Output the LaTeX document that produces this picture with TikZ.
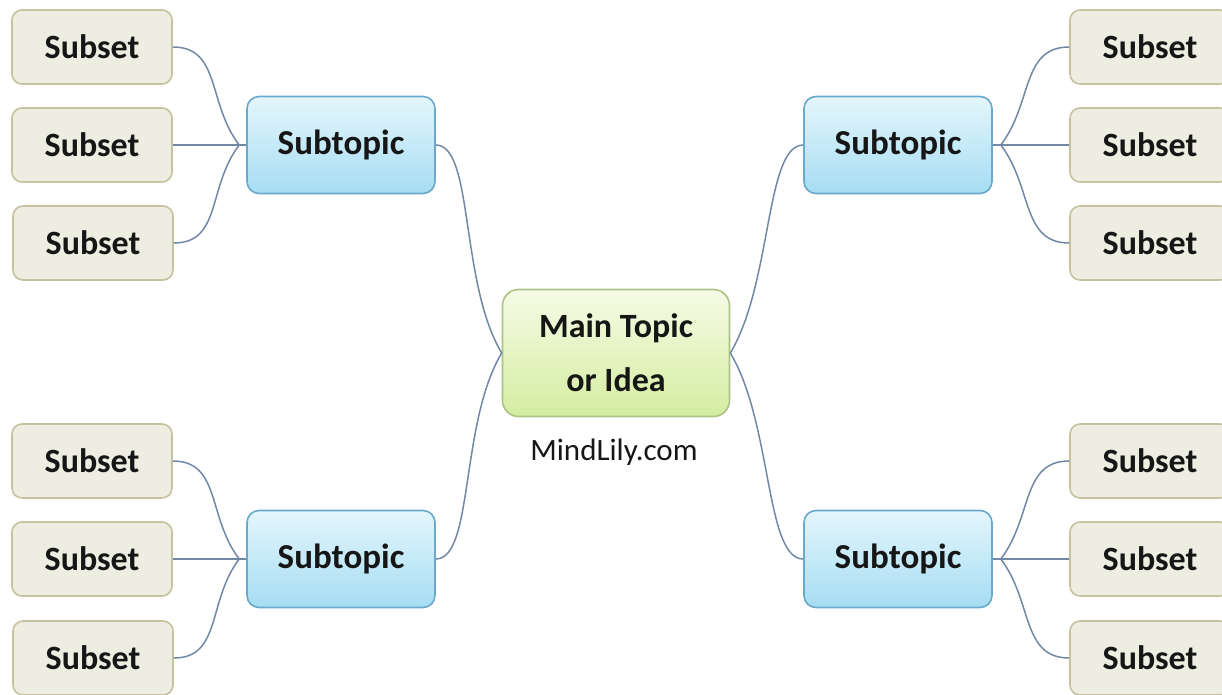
\documentclass[tikz,border=0pt]{standalone}
\usepackage{fontspec}
\setmainfont{Carlito}
\definecolor{linkcol}{HTML}{7388A6}
\definecolor{subsetfill}{HTML}{EEEDE2}
\definecolor{subsetdraw}{HTML}{C5C29F}
\definecolor{subtopictop}{HTML}{E4F6FC}
\definecolor{subtopicbot}{HTML}{A6DDF3}
\definecolor{subtopicdraw}{HTML}{6AA9CB}
\definecolor{maintop}{HTML}{F7FBE6}
\definecolor{mainbot}{HTML}{D3EDA0}
\definecolor{maindraw}{HTML}{ADC286}
\definecolor{inkcol}{HTML}{161616}
\begin{document}
\begin{tikzpicture}[x=1pt,y=-1pt,
  subsetbox/.style={draw=subsetdraw,line width=1.6pt,fill=subsetfill,rounded corners=10pt,
    minimum width=160pt,minimum height=74pt,inner sep=0pt,
    font=\fontsize{34}{40}\selectfont\bfseries,text=inkcol},
  topicbox/.style={draw=subtopicdraw,line width=1.6pt,top color=subtopictop,bottom color=subtopicbot,
    rounded corners=12pt,minimum width=188pt,minimum height=97pt,inner sep=0pt,
    font=\fontsize{35}{40}\selectfont\bfseries,text=inkcol},
  mainbox/.style={draw=maindraw,line width=1.6pt,top color=maintop,bottom color=mainbot,
    rounded corners=16pt,minimum width=227pt,minimum height=127pt,inner sep=0pt,align=center,
    font=\fontsize{34}{54}\selectfont\bfseries,text=inkcol},
  link/.style={draw=linkcol,line width=1.5pt}]
\useasboundingbox (0,0) rectangle (1222,694);
\fill[white] (0,0) rectangle (1222,694);
\clip (0,0) rectangle (1222,694);

% central idea
\node[mainbox] (main) at (616,353) {Main Topic\\or Idea};
\node[font=\fontsize{31}{36}\selectfont,text=inkcol] (site) at (614,452) {MindLily.com};

% subtopics
\node[topicbox] (tl) at (341,145) {Subtopic};
\node[topicbox] (bl) at (341,559) {Subtopic};
\node[topicbox] (tr) at (898,145) {Subtopic};
\node[topicbox] (br) at (898,559) {Subtopic};

% subsets, left column
\node[subsetbox] (tl1) at (92,47) {Subset};
\node[subsetbox] (tl2) at (92,145) {Subset};
\node[subsetbox] (tl3) at (93,243) {Subset};
\node[subsetbox] (bl1) at (92,461) {Subset};
\node[subsetbox] (bl2) at (92,559) {Subset};
\node[subsetbox] (bl3) at (93,658) {Subset};
% subsets, right column
\node[subsetbox] (tr1) at (1150,47) {Subset};
\node[subsetbox] (tr2) at (1150,145) {Subset};
\node[subsetbox] (tr3) at (1150,243) {Subset};
\node[subsetbox] (br1) at (1150,461) {Subset};
\node[subsetbox] (br2) at (1150,559) {Subset};
\node[subsetbox] (br3) at (1150,658) {Subset};

% branch points just outside the subtopics
\coordinate (jtl) at ([xshift=-7pt]tl.west);
\coordinate (jbl) at ([xshift=-7pt]bl.west);
\coordinate (jtr) at ([xshift=8pt]tr.east);
\coordinate (jbr) at ([xshift=8pt]br.east);

% subtopics to the central idea
\draw[link] (tl.east) .. controls +(38,0) and +(-42,-70) .. (main.west);
\draw[link] (bl.east) .. controls +(38,0) and +(-42,70) .. (main.west);
\draw[link] (tr.west) .. controls +(-38,0) and +(42,-70) .. (main.east);
\draw[link] (br.west) .. controls +(-38,0) and +(42,70) .. (main.east);

% left branches
\foreach \s/\j/\t in {tl/jtl/tl, bl/jbl/bl}{
  \draw[link] (\s1.east) .. controls +(48,0) and +(-32,-42) .. (\j) -- (\t.west);
  \draw[link] (\s2.east) -- (\t.west);
  \draw[link] (\s3.east) .. controls +(48,0) and +(-32,42) .. (\j);
}
% right branches
\foreach \s/\j/\t in {tr/jtr/tr, br/jbr/br}{
  \draw[link] (\s1.west) .. controls +(-48,0) and +(32,-42) .. (\j) -- (\t.east);
  \draw[link] (\s2.west) -- (\t.east);
  \draw[link] (\s3.west) .. controls +(-48,0) and +(32,42) .. (\j);
}
\end{tikzpicture}
\end{document}
